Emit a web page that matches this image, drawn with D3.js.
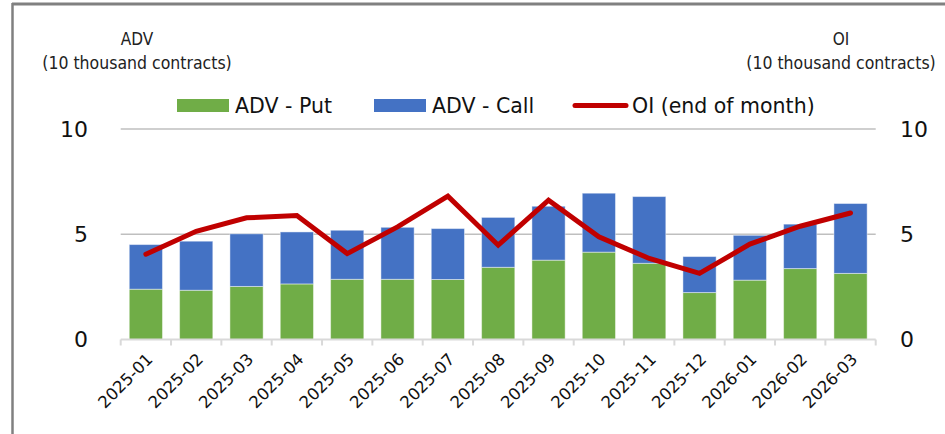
<!DOCTYPE html>
<html>
<head>
<meta charset="utf-8">
<script src="https://cdn.jsdelivr.net/npm/d3@7"></script>
<style>
  body { margin: 0; background: #fff; }
  svg { display: block; }
</style>
</head>
<body>
<script>
const panel_width = 945;
const panel_height = 434;

// values in 10 thousand contracts
const months = ["2025-01", "2025-02", "2025-03", "2025-04", "2025-05", "2025-06", "2025-07", "2025-08",
                "2025-09", "2025-10", "2025-11", "2025-12", "2026-01", "2026-02", "2026-03"];
const advPut  = [2.39, 2.34, 2.52, 2.64, 2.86, 2.86, 2.85, 3.43, 3.77, 4.15, 3.62, 2.23, 2.82, 3.37, 3.14];
const advCall = [2.12, 2.33, 2.50, 2.47, 2.33, 2.47, 2.42, 2.37, 2.56, 2.80, 3.17, 1.71, 2.13, 2.11, 3.32];
const oiEnd   = [4.05, 5.14, 5.78, 5.89, 4.08, 5.35, 6.81, 4.48, 6.62, 4.88, 3.85, 3.14, 4.53, 5.38, 6.01];
const yTicks  = [0, 5, 10];
const legendLabels = ["ADV - Put", "ADV - Call", "OI (end of month)"];

const green = "#70AD47";
const blue = "#4472C4";
const red = "#C00000";
const font = "'DejaVu Sans', Verdana, sans-serif";

window.addEventListener("load", makeChart);

function makeChart() {
    const svg = d3.select("body")
        .append("svg")
        .attr("width", panel_width)
        .attr("height", panel_height);

    // outer frame (only left and top edges visible in the crop)
    svg.append("line")
        .attr("x1", 12.5).attr("x2", 12.5)
        .attr("y1", 3).attr("y2", panel_height)
        .attr("stroke", "#808080").attr("stroke-width", 2.5);
    svg.append("line")
        .attr("x1", 12).attr("x2", panel_width)
        .attr("y1", 4).attr("y2", 4)
        .attr("stroke", "#808080").attr("stroke-width", 3);

    const x = d3.scaleBand()
        .domain(months)
        .range([120.7, 875.7])
        .paddingInner(0.34)
        .paddingOuter(0.17);

    const y = d3.scaleLinear().domain([0, 10]).range([339.5, 129]);
    const y2 = d3.scaleLinear().domain([0, 10]).range([339.5, 129]);

    // gridlines
    svg.append("g")
        .selectAll("line")
        .data(yTicks.filter(d => d > 0))
        .join("line")
        .attr("x1", 120.7).attr("x2", 875.7)
        .attr("y1", d => y(d)).attr("y2", d => y(d))
        .attr("stroke", "#BFBFBF").attr("stroke-width", 1.5);

    // stacked bars
    const rows = months.map((m, i) => ({ month: m, put: advPut[i], call: advCall[i] }));
    const stacked = d3.stack().keys(["put", "call"])(rows);
    const colors = { put: green, call: blue };

    svg.append("g")
        .selectAll("g")
        .data(stacked)
        .join("g")
        .attr("fill", d => colors[d.key])
        .selectAll("rect")
        .data(d => d)
        .join("rect")
        .attr("x", d => x(d.data.month))
        .attr("y", d => y(d[1]))
        .attr("width", x.bandwidth())
        .attr("height", d => y(d[0]) - y(d[1]))
        .attr("stroke", "#ffffff")
        .attr("stroke-opacity", 0.45)
        .attr("stroke-width", 1);

    // x axis line and category ticks
    const xAxis = svg.append("g");
    xAxis.append("line")
        .attr("x1", 120.7).attr("x2", 875.7)
        .attr("y1", y(0)).attr("y2", y(0))
        .attr("stroke", "#D9D9D9").attr("stroke-width", 2);
    const step = x.step();
    xAxis.selectAll(".tick")
        .data(d3.range(months.length + 1))
        .join("line")
        .attr("class", "tick")
        .attr("x1", i => 120.7 + i * step).attr("x2", i => 120.7 + i * step)
        .attr("y1", y(0)).attr("y2", y(0) + 6)
        .attr("stroke", "#D9D9D9").attr("stroke-width", 2);

    xAxis.selectAll("text")
        .data(months)
        .join("text")
        .attr("transform", d => {
            const cx = x(d) + x.bandwidth() / 2 + 4;
            return `translate(${cx},${y(0) + 17}) rotate(-45)`;
        })
        .attr("text-anchor", "end")
        .attr("dominant-baseline", "central")
        .attr("font-family", font)
        .attr("font-size", "16.5px")
        .attr("fill", "#111")
        .text(d => d);

    // left and right value labels
    svg.append("g")
        .selectAll("text")
        .data(yTicks)
        .join("text")
        .attr("x", 88)
        .attr("y", d => y(d))
        .attr("text-anchor", "end")
        .attr("dominant-baseline", "central")
        .attr("font-family", font)
        .attr("font-size", "22px")
        .attr("fill", "#111")
        .text(d => d);

    svg.append("g")
        .selectAll("text")
        .data(yTicks)
        .join("text")
        .attr("x", 900)
        .attr("y", d => y2(d))
        .attr("text-anchor", "start")
        .attr("dominant-baseline", "central")
        .attr("font-family", font)
        .attr("font-size", "22px")
        .attr("fill", "#111")
        .text(d => d);

    // OI line
    const line = d3.line()
        .x((d, i) => x(months[i]) + x.bandwidth() / 2)
        .y(d => y2(d));

    svg.append("path")
        .datum(oiEnd)
        .attr("d", line)
        .attr("fill", "none")
        .attr("stroke", red)
        .attr("stroke-width", 5)
        .attr("stroke-linejoin", "miter")
        .attr("stroke-linecap", "round");

    // axis titles
    const titleFont = "'DejaVu Sans Condensed', 'DejaVu Sans', sans-serif";
    [[137, "ADV"], [841, "OI"]].forEach(([cx, label]) => {
        svg.append("text")
            .attr("x", cx).attr("y", 39)
            .attr("text-anchor", "middle")
            .attr("dominant-baseline", "central")
            .attr("font-family", titleFont)
            .attr("font-size", "17px")
            .attr("fill", "#222")
            .text(label);
        svg.append("text")
            .attr("x", cx).attr("y", 63)
            .attr("text-anchor", "middle")
            .attr("dominant-baseline", "central")
            .attr("font-family", titleFont)
            .attr("font-size", "17.5px")
            .attr("fill", "#222")
            .text("(10 thousand contracts)");
    });

    // legend
    const legend = svg.append("g");
    const legendX = [177, 374, 573];
    const legendY = 105.5;

    legend.append("rect")
        .attr("x", legendX[0]).attr("y", legendY - 6.5)
        .attr("width", 52).attr("height", 13)
        .attr("fill", green);
    legend.append("rect")
        .attr("x", legendX[1]).attr("y", legendY - 6.5)
        .attr("width", 52).attr("height", 13)
        .attr("fill", blue);
    legend.append("line")
        .attr("x1", legendX[2] + 2).attr("x2", legendX[2] + 53)
        .attr("y1", legendY).attr("y2", legendY)
        .attr("stroke", red).attr("stroke-width", 5)
        .attr("stroke-linecap", "round");

    legend.selectAll("text")
        .data(legendLabels)
        .join("text")
        .attr("x", (d, i) => legendX[i] + (i === 2 ? 59 : 58))
        .attr("y", legendY)
        .attr("dominant-baseline", "central")
        .attr("font-family", font)
        .attr("font-size", "20.5px")
        .attr("fill", "#111")
        .text(d => d);
}
</script>
</body>
</html>
